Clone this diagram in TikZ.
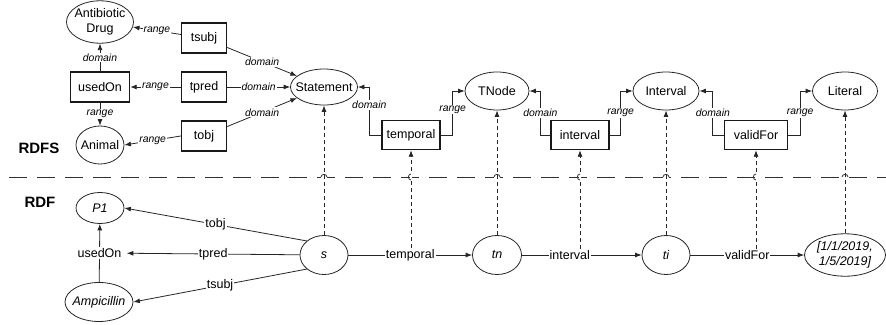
\documentclass[tikz,border=0pt]{standalone}
\usepackage{fontspec}
\setmainfont{Liberation Sans}
\usetikzlibrary{shapes.geometric,arrows.meta}
\newcommand\zw[1]{\makebox[0pt]{#1}}
\begin{document}
\begin{tikzpicture}[x=1pt,y=-1pt,
  >={Latex[length=6.5pt,width=5pt]},
  every node/.style={font=\fontsize{12.5}{15}\selectfont},
  ell/.style={draw=black!85, ellipse, inner sep=0pt, line width=0.8pt},
  box/.style={draw=black!90, rectangle, inner sep=0pt, line width=1.4pt},
  lbl/.style={font=\fontsize{10.4}{12}\selectfont\itshape, fill=white, inner sep=1pt},
  rl/.style={fill=white, inner sep=1pt},
  conn/.style={->, draw=black!85, line width=0.8pt},
  dline/.style={->, draw=black!85, line width=0.8pt, dash pattern=on 4pt off 3pt},
  hdr/.style={font=\fontsize{15}{18}\selectfont\bfseries},
]
\useasboundingbox (0,0) rectangle (886,324);

% ---------- RDFS ----------
\node[ell, minimum width=67pt, minimum height=40pt] (AD) at (100,22)
  {\zw{\begin{tabular}{@{}c@{}}Antibiotic\\Drug\end{tabular}}};
\node[box, minimum width=45pt, minimum height=30pt] (tsubj) at (204,38) {tsubj};
\node[box, minimum width=59pt, minimum height=30pt] (usedOnC) at (100,87) {usedOn};
\node[box, minimum width=45pt, minimum height=30pt] (tpred) at (204,87) {tpred};
\node[box, minimum width=45pt, minimum height=30pt] (tobj) at (204,136) {tobj};
\node[ell, minimum width=48pt, minimum height=38pt] (Animal) at (100,145) {\zw{Animal}};
\node[ell, minimum width=67pt, minimum height=36pt] (Statement) at (324,87) {\zw{Statement}};
\node[box, minimum width=58pt, minimum height=29pt] (temporalC) at (411,135) {temporal};
\node[ell, minimum width=64pt, minimum height=38pt] (TNode) at (497,91) {\zw{TNode}};
\node[box, minimum width=58pt, minimum height=29pt] (intervalC) at (580,135) {interval};
\node[ell, minimum width=66pt, minimum height=38pt] (Interval) at (666,91) {\zw{Interval}};
\node[box, minimum width=63pt, minimum height=29pt] (validForC) at (756,135) {validFor};
\node[ell, minimum width=65pt, minimum height=38pt] (Literal) at (845,91) {\zw{Literal}};
\node[hdr] (rdfs) at (39,148) {RDFS};

\draw[conn] (tsubj) -- node[lbl]{range} (AD);
\draw[conn] (usedOnC) -- node[lbl]{domain} (AD);
\draw[conn] (tpred) -- node[lbl]{range} (usedOnC);
\draw[conn] (usedOnC) -- node[lbl]{range} (Animal);
\draw[conn] (tobj.west) -- node[lbl]{range} (Animal.east);
\draw[conn] (tsubj) -- node[lbl]{domain} (Statement);
\draw[conn] (tpred) -- node[lbl]{domain} (Statement);
\draw[conn] (tobj) -- node[lbl]{domain} (Statement);

\draw[conn] (temporalC.west) -- ++(-12,0) |- node[lbl,pos=0.31]{domain} (Statement.east);
\draw[conn] (temporalC.east) -- ++(12,0) |- node[lbl,pos=0.29]{range} (TNode.west);
\draw[conn] (intervalC.west) -- ++(-10,0) |- node[lbl,pos=0.25]{domain} (TNode.east);
\draw[conn] (intervalC.east) -- ++(11,0) |- node[lbl,pos=0.25]{range} (Interval.west);
\draw[conn] (validForC.west) -- ++(-11,0) |- node[lbl,pos=0.25]{domain} (Interval.east);
\draw[conn] (validForC.east) -- ++(12,0) |- node[lbl,pos=0.25]{range} (Literal.west);

% ---------- RDF ----------
\node[hdr] (rdf) at (40,202) {RDF};
\node[ell, minimum width=48pt, minimum height=31pt] (P1) at (100,208) {\zw{\itshape P1}};
\node[ell, minimum width=68pt, minimum height=39pt] (Amp) at (99,302) {\zw{\itshape Ampicillin}};
\node[ell, minimum width=48pt, minimum height=39pt] (s) at (324,255) {\zw{\itshape s}};
\node[ell, minimum width=49pt, minimum height=39pt] (tn) at (497,255) {\zw{\itshape tn}};
\node[ell, minimum width=48pt, minimum height=39pt] (ti) at (666,255) {\zw{\itshape ti}};
\node[ell, minimum width=81pt, minimum height=39pt] (lit) at (845,255)
  {\zw{\itshape\begin{tabular}{@{}c@{}}[1/1/2019,\\1/5/2019]\end{tabular}}};

\draw[conn] (Amp) -- node[rl, inner xsep=5pt] (uo) {usedOn} (P1);
\draw[conn] (s.north west) -- node[rl]{tobj} (P1.east);
\draw[conn] (s) -- node[rl]{tpred} (uo);
\draw[conn] (s.south west) -- node[rl]{tsubj} (Amp.east);
\draw[conn] (s) -- node[rl] (lt) {temporal} (tn);
\draw[conn] (tn) -- node[rl,pos=0.4] (li) {interval} (ti);
\draw[conn] (ti) -- node[rl] (lv) {validFor} (lit);

% ---------- separator ----------
\draw[draw=black!80, line width=1pt, dash pattern=on 18pt off 10pt] (9,177) -- (886,177);
\foreach \x in {324,497,666,845} {
  \fill[white] (\x-3,175.5) rectangle (\x+3,178.5);
  \draw[draw=black!80, line width=0.8pt] (\x-3,177) .. controls (\x-3,173.5) and (\x+3,173.5) .. (\x+3,177);
}

% ---------- instance-of links ----------
\draw[dline] (s) -- (Statement);
\draw[dline] (temporalC.south |- lt.north) -- (temporalC.south);
\draw[dline] (tn) -- (TNode);
\draw[dline] (intervalC.south |- li.north) -- (intervalC.south);
\draw[dline] (ti) -- (Interval);
\draw[dline] (validForC.south |- lv.north) -- (validForC.south);
\draw[dline] (lit) -- (Literal);

\foreach \x in {411,580,756} {
  \fill[white] (\x-0.8,174) rectangle (\x+0.8,180);
  \draw[draw=black!80, line width=0.8pt] (\x,174) .. controls (\x-3.5,174) and (\x-3.5,180) .. (\x,180);
}
\end{tikzpicture}
\end{document}
